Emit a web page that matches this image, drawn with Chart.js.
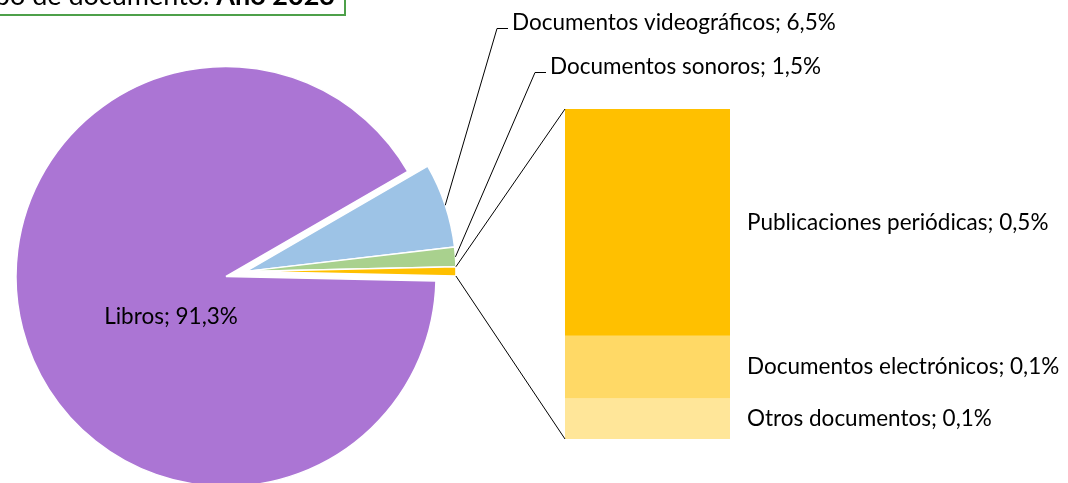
<!DOCTYPE html>
<html>
<head>
<meta charset="utf-8">
<script src="https://cdn.jsdelivr.net/npm/chart.js@4.4.1/dist/chart.umd.min.js"></script>
<style>
html,body{margin:0;padding:0;background:#fff;}
#wrap{position:relative;width:1068px;height:483px;overflow:hidden;background:#fff;}
#wrap canvas{position:absolute;left:0;top:0;}
</style>
</head>
<body>
<div id="wrap">
  <canvas id="pie" width="1068" height="483"></canvas>
  <canvas id="bar" width="1068" height="483"></canvas>
</div>
<script>
// ---- data ----
const pieCategories = ['Documentos videográficos', 'Documentos sonoros', 'Libros'];
const pieValues = [6.5, 1.5, 91.3];
const barCategories = ['Otros documentos', 'Documentos electrónicos', 'Publicaciones periódicas'];
const barValues = [0.086, 0.133, 0.481];
const titleNormal = 'Fondos por tipo de documento. ';
const titleBold = 'Año 2023';

// ---- styles ----
const FONT = 'Lato';
const LABEL_SIZE = 22.5;
const pieColors = ['#9DC3E6', '#A9D18E', '#FFC000', '#AB75D4'];
const barColors = ['#FFE699', '#FFD966', '#FFC000'];

const otherSum = barValues.reduce((a, b) => a + b, 0);
const pieData = [pieValues[0], pieValues[1], otherSum, pieValues[2]];
const pieTotal = pieData.reduce((a, b) => a + b, 0);
const fmt = v => v.toFixed(1).replace('.', ',') + '%';
// combined slice centred on the horizontal
const rotationDeg = 90 - 360 * (pieData[0] + pieData[1] + pieData[2] / 2) / pieTotal;
const SHIFT = 20.6;

Chart.defaults.font.family = FONT;

const pieGeom = {
  id: 'pieGeom',
  beforeDatasetsDraw(chart) {
    const els = chart.getDatasetMeta(0).data;
    const mid = (els[0].startAngle + els[2].endAngle) / 2;
    chart.$shift = { dx: SHIFT * Math.cos(mid), dy: SHIFT * Math.sin(mid) };
    for (let i = 0; i < 3; i++) {
      const el = els[i];
      if (!el.$patched) {
        const orig = el.draw;
        el.draw = function (ctx, area) {
          ctx.save();
          ctx.translate(chart.$shift.dx, chart.$shift.dy);
          orig.call(this, ctx, area);
          ctx.restore();
        };
        el.$patched = true;
      }
    }
  },
  afterDatasetsDraw(chart) {
    const ctx = chart.ctx;
    const els = chart.getDatasetMeta(0).data;
    const s = chart.$shift;
    ctx.save();
    ctx.fillStyle = '#000';
    ctx.strokeStyle = '#000';
    ctx.lineWidth = 1;
    ctx.font = LABEL_SIZE + 'px ' + FONT;
    // Libros label
    const lib = els[3];
    ctx.textAlign = 'center';
    ctx.textBaseline = 'middle';
    ctx.fillText(pieCategories[2] + '; ' + fmt(pieValues[2]), lib.x - 55, lib.y + 40);
    // leader labels
    const lpos = [{ x: 512, y: 30 }, { x: 550, y: 74 }];
    ctx.textAlign = 'left';
    ctx.textBaseline = 'alphabetic';
    for (let i = 0; i < 2; i++) {
      const el = els[i];
      const m = (el.startAngle + el.endAngle) / 2;
      const px = el.x + s.dx + el.outerRadius * Math.cos(m);
      const py = el.y + s.dy + el.outerRadius * Math.sin(m);
      const p = lpos[i];
      ctx.beginPath();
      ctx.moveTo(px, py);
      ctx.lineTo(p.x - 15, p.y - 1.5);
      ctx.lineTo(p.x - 4, p.y - 1.5);
      ctx.stroke();
      ctx.fillText(pieCategories[i] + '; ' + fmt(pieValues[i]), p.x, p.y);
    }
    // title box
    ctx.strokeStyle = '#4EA04A';
    ctx.lineWidth = 2;
    ctx.strokeRect(-200, -40, 545, 55);
    ctx.fillStyle = '#000';
    ctx.textAlign = 'left';
    ctx.font = 'bold 27px ' + FONT;
    const wb = ctx.measureText(titleBold).width;
    const right = 335;
    ctx.fillText(titleBold, right - wb, 5);
    ctx.font = '27px ' + FONT;
    const wn = ctx.measureText(titleNormal).width;
    ctx.fillText(titleNormal, right - wb - wn, 5);
    ctx.restore();
  }
};

const pieChart = new Chart(document.getElementById('pie'), {
  type: 'pie',
  data: {
    labels: [pieCategories[0], pieCategories[1], 'Otros', pieCategories[2]],
    datasets: [{
      data: pieData,
      backgroundColor: pieColors,
      borderColor: '#ffffff',
      borderWidth: 1.5
    }]
  },
  options: {
    responsive: false,
    animation: false,
    events: [],
    rotation: rotationDeg,
    radius: 210,
    layout: { padding: { left: 0, right: 616, top: 70, bottom: 0 } },
    plugins: { legend: { display: false }, tooltip: { enabled: false } }
  },
  plugins: [pieGeom]
});

const barDeco = {
  id: 'barDeco',
  afterDatasetsDraw(chart) {
    const ctx = chart.ctx;
    ctx.save();
    ctx.fillStyle = '#000';
    ctx.font = LABEL_SIZE + 'px ' + FONT;
    ctx.textAlign = 'left';
    ctx.textBaseline = 'middle';
    for (let i = 0; i < barCategories.length; i++) {
      const el = chart.getDatasetMeta(i).data[0];
      ctx.fillText(barCategories[i] + '; ' + fmt(barValues[i]), el.x + el.width / 2 + 17, (el.y + el.base) / 2);
    }
    // series lines to the combined slice
    const pm = pieChart.getDatasetMeta(0).data[2];
    const s = pieChart.$shift;
    const topEl = chart.getDatasetMeta(barCategories.length - 1).data[0];
    const botEl = chart.getDatasetMeta(0).data[0];
    const left = topEl.x - topEl.width / 2;
    ctx.strokeStyle = '#000';
    ctx.lineWidth = 1;
    ctx.beginPath();
    ctx.moveTo(left, topEl.y);
    ctx.lineTo(pm.x + s.dx + pm.outerRadius * Math.cos(pm.startAngle), pm.y + s.dy + pm.outerRadius * Math.sin(pm.startAngle));
    ctx.moveTo(left, botEl.base);
    ctx.lineTo(pm.x + s.dx + pm.outerRadius * Math.cos(pm.endAngle), pm.y + s.dy + pm.outerRadius * Math.sin(pm.endAngle));
    ctx.stroke();
    ctx.restore();
  }
};

new Chart(document.getElementById('bar'), {
  type: 'bar',
  data: {
    labels: [''],
    datasets: barCategories.map((c, i) => ({
      label: c,
      data: [barValues[i]],
      backgroundColor: barColors[i],
      borderWidth: 0,
      barPercentage: 1,
      categoryPercentage: 1
    }))
  },
  options: {
    responsive: false,
    animation: false,
    events: [],
    layout: { padding: { left: 565, right: 338, top: 109, bottom: 44 } },
    scales: {
      x: { stacked: true, display: false },
      y: { stacked: true, display: false, min: 0, max: otherSum }
    },
    plugins: { legend: { display: false }, tooltip: { enabled: false } }
  },
  plugins: [barDeco]
});
</script>
</body>
</html>
